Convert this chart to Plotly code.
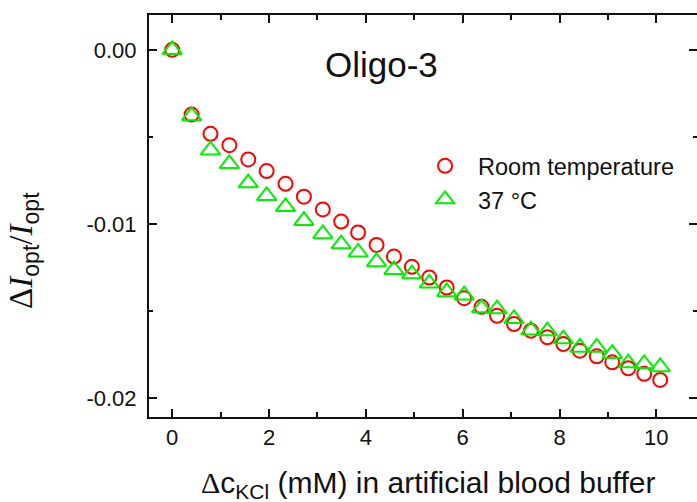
import plotly.graph_objects as go

# KCl concentration increments (mM)
conc = [0.0, 0.40, 0.79, 1.18, 1.57, 1.95, 2.34, 2.72, 3.11, 3.49, 3.84, 4.22, 4.58,
        4.95, 5.31, 5.67, 6.03, 6.39, 6.71, 7.06, 7.41, 7.75, 8.08, 8.42, 8.77,
        9.09, 9.42, 9.75, 10.08]

room_temp = [0.0, -0.00372, -0.00483, -0.00548, -0.00630, -0.00697, -0.00770, -0.00844,
             -0.00917, -0.00987, -0.01050, -0.01121, -0.01188, -0.01247, -0.01309,
             -0.01366, -0.01427, -0.01477, -0.01528, -0.01576, -0.01614, -0.01652,
             -0.01691, -0.01729, -0.01761, -0.01796, -0.01830, -0.01862, -0.01897]

temp_37 = [0.0, -0.00380, -0.00577, -0.00655, -0.00766, -0.00839, -0.00902, -0.00982,
           -0.01058, -0.01116, -0.01164, -0.01219, -0.01264, -0.01289, -0.01342,
           -0.01391, -0.01410, -0.01484, -0.01490, -0.01546, -0.01611, -0.01616,
           -0.01662, -0.01710, -0.01710, -0.01746, -0.01800, -0.01805, -0.01822]

y_tickvals = [0.0, -0.01, -0.02]
y_ticktext = ["0.00", "-0.01", "-0.02"]
x_tickvals = [0, 2, 4, 6, 8, 10]

FONT = "Liberation Sans, Arial, sans-serif"

fig = go.Figure()
fig.add_trace(go.Scatter(
    x=conc, y=room_temp, mode="markers", name="Room temperature",
    marker=dict(symbol="circle-open", size=14, color="#FF0000",
                line=dict(color="#FF0000", width=2)),
))
fig.add_trace(go.Scatter(
    x=conc, y=temp_37, mode="markers", name="37 \u00b0C",
    marker=dict(symbol="triangle-up-open", size=17, color="#00F000",
                line=dict(color="#00F000", width=2)),
))

axis_common = dict(
    showline=True, linecolor="#111", linewidth=2, mirror="ticks",
    ticks="inside", tickcolor="#111", tickwidth=1.5, ticklen=8,
    showgrid=False, zeroline=False,
    tickfont=dict(family=FONT, size=22, color="#111"),
)

fig.update_xaxes(
    range=[-0.48, 10.84], tickmode="array", tickvals=x_tickvals,
    minor=dict(tickmode="linear", tick0=0, dtick=1, ticks="inside", ticklen=5,
               tickcolor="#111", tickwidth=1.5),
    **axis_common,
)
fig.update_yaxes(
    range=[-0.0211, 0.0020], tickmode="array", tickvals=y_tickvals,
    ticktext=y_ticktext, ticklabelstandoff=6,
    minor=dict(tickmode="linear", tick0=0, dtick=0.005, ticks="inside", ticklen=4,
               tickcolor="#111", tickwidth=1.5),
    **axis_common,
)

SERIF = "font-family:Liberation Serif"

fig.update_layout(
    width=697, height=502,
    margin=dict(l=149, r=0, t=15, b=85, autoexpand=False),
    paper_bgcolor="white", plot_bgcolor="white",
    font=dict(family=FONT, color="#111"),
    showlegend=True,
    legend=dict(x=0.48, y=0.679, xanchor="left", yanchor="top",
                bgcolor="rgba(0,0,0,0)", font=dict(family=FONT, size=23.5, color="#111"),
                itemwidth=56),
    annotations=[
        dict(text="Oligo-3", x=0.425, y=0.878, xref="paper", yref="paper",
             xanchor="center", yanchor="middle", showarrow=False,
             font=dict(family=FONT, size=35, color="#111")),
        dict(text=f"<span style='{SERIF}'>\u0394</span>c<sub>KCl</sub> (mM) in artificial blood buffer",
             x=0.51, y=-0.167, xref="paper", yref="paper",
             xanchor="center", yanchor="middle", showarrow=False,
             font=dict(family=FONT, size=30, color="#111")),
        dict(text=(f"<span style='{SERIF}'>\u0394<i>I</i></span><sub>opt</sub>"
                   f"<span style='{SERIF}'>/<i>I</i></span><sub>opt</sub>"),
             x=-0.228, y=0.413, xref="paper", yref="paper", textangle=-90,
             xanchor="center", yanchor="middle", showarrow=False,
             font=dict(family=FONT, size=33, color="#111")),
    ],
)

# remove the default 8px page margin so the figure fills the window exactly
fig.write_html(
    "out.html",
    config={"displayModeBar": False},
    post_script="document.body.style.margin='0';document.body.style.overflow='hidden';",
)
